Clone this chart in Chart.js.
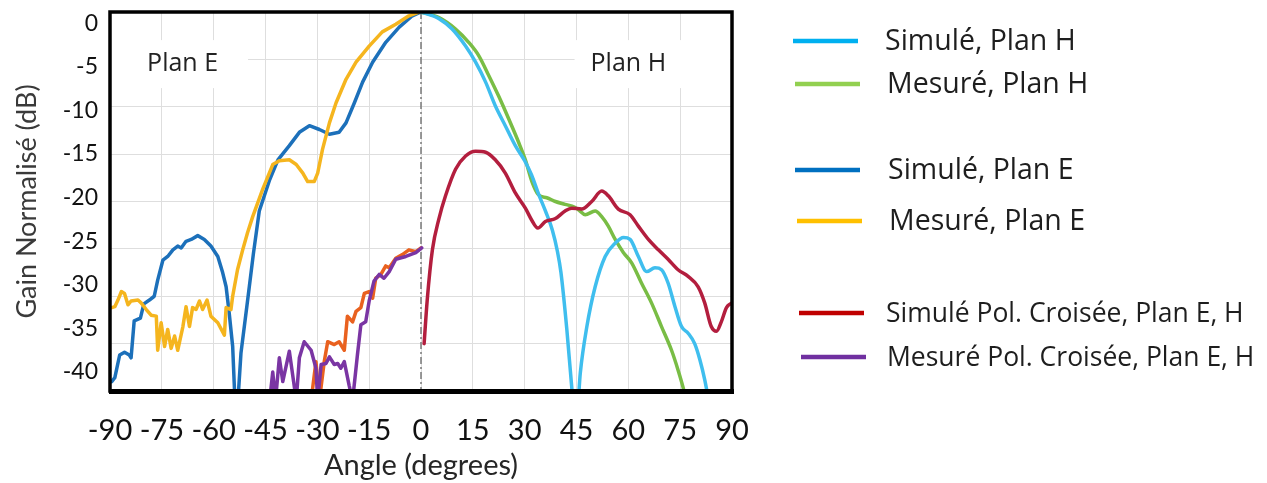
<!DOCTYPE html>
<html>
<head>
<meta charset="utf-8">
<script src="https://cdn.jsdelivr.net/npm/chart.js@4.4.1/dist/chart.umd.min.js"></script>
<style>
  html, body { margin: 0; padding: 0; background: #ffffff; }
  #wrap { position: relative; width: 1267px; height: 483px; }
</style>
</head>
<body>
<div id="wrap"><canvas id="chart" width="1267" height="483"></canvas></div>
<script>
// Tick values
const angleTicks = [-90, -75, -60, -45, -30, -15, 0, 15, 30, 45, 60, 75, 90];
const gainTicks = [0, -5, -10, -15, -20, -25, -30, -35, -40];

// Simulated, H plane
const simHAngle = [0, 5.2, 9.0, 12.9, 15.8, 18.7, 21.5, 24.4, 27.3, 30.0, 32.0, 34.0, 36.0, 38.0, 39.5, 40.5, 42.2, 43.6, 44.8, 46.1, 48.0, 50.4, 53.3, 56.2, 58.6, 60.5, 62.9, 65.3, 67.7, 69.6, 71.5, 73.5, 75.4, 77.3, 79.2, 80.7, 82.1, 83.5];
const simHGain  = [0, -0.7, -1.8, -3.6, -5.3, -7.4, -9.9, -12.0, -14.1, -15.7, -17.2, -19.2, -21.0, -23.0, -25.3, -27.5, -33.5, -39.5, -44.0, -38.1, -33.2, -29.0, -25.8, -24.4, -23.8, -24.0, -25.8, -27.4, -27.0, -27.2, -28.6, -31.1, -33.2, -33.9, -35.0, -36.7, -38.8, -41.5];

// Measured, H plane
const mesHAngle = [0, 5.2, 10.0, 13.8, 16.7, 19.6, 22.5, 25.4, 28.3, 30.2, 32.1, 34.0, 36.4, 38.9, 41.7, 44.5, 46.0, 47.5, 50.4, 52.3, 54.2, 56.2, 58.6, 61.0, 63.8, 66.7, 69.6, 72.5, 74.4, 75.9, 77.0];
const mesHGain  = [0, -0.6, -1.8, -3.2, -4.6, -6.7, -8.9, -11.3, -13.8, -15.6, -17.9, -19.3, -19.6, -20.0, -20.3, -20.6, -21.0, -21.4, -21.0, -21.6, -22.6, -24.0, -25.4, -26.5, -28.6, -30.7, -33.2, -35.7, -37.8, -39.7, -41.5];

// Simulated, E plane
const simEAngle = [-89.5, -88.6, -87.2, -85.8, -84.4, -83.9, -83.0, -81.2, -80.2, -78.6, -77.2, -76.2, -74.7, -73.3, -71.8, -70.4, -69.4, -68.0, -66.5, -64.6, -62.7, -60.8, -58.8, -57.4, -56.4, -55.5, -54.5, -53.5, -52.1, -50.2, -48.5, -46.8, -43.8, -41.4, -38.1, -35.2, -32.3, -29.4, -26.5, -23.7, -21.7, -19.3, -16.9, -14.0, -10.2, -6.3, -2.5, 0];
const simEGain  = [-39.0, -38.6, -36.2, -35.9, -36.2, -36.5, -32.6, -32.3, -30.8, -30.4, -30.0, -28.3, -26.2, -25.8, -25.1, -24.7, -24.9, -24.2, -24.0, -23.6, -24.0, -24.7, -25.8, -27.5, -29.0, -31.8, -35.3, -44.0, -36.0, -30.5, -25.5, -21.0, -17.7, -15.6, -14.1, -12.7, -12.0, -12.4, -12.9, -12.7, -11.7, -9.6, -7.4, -5.3, -3.2, -1.6, -0.4, 0];

// Measured, E plane
const mesEAngle = [-89.5, -88.6, -87.7, -86.7, -85.8, -84.8, -83.9, -81.9, -81.0, -79.5, -78.1, -76.6, -76.2, -75.2, -74.2, -73.3, -72.3, -71.3, -70.4, -68.9, -68.0, -67.0, -66.1, -65.1, -64.1, -63.2, -61.9, -60.8, -58.8, -56.9, -56.4, -55.0, -54.5, -53.1, -51.6, -50.2, -48.7, -45.8, -42.9, -41.0, -38.1, -36.1, -34.2, -32.8, -30.9, -29.9, -28.5, -26.5, -24.6, -21.7, -18.8, -15.0, -11.2, -7.3, -3.5, -0.6];
const mesEGain  = [-31.2, -31.1, -30.4, -29.5, -29.7, -30.9, -30.5, -30.4, -30.7, -31.4, -32.0, -32.1, -35.7, -32.8, -35.3, -33.5, -35.5, -34.2, -35.7, -33.2, -31.1, -33.2, -31.2, -31.4, -30.5, -31.4, -30.4, -32.1, -32.8, -34.1, -31.2, -31.4, -30.0, -27.2, -25.1, -23.3, -21.6, -18.7, -16.1, -15.7, -15.6, -16.1, -17.0, -17.9, -17.9, -17.0, -14.5, -11.7, -9.6, -7.1, -5.3, -3.6, -2.1, -1.3, -0.4, 0];

// Simulated cross-polarisation
const simXAngle = [0.9, 1.8, 3.3, 5.2, 7.1, 10.0, 12.9, 15.8, 18.7, 21.5, 24.4, 27.3, 30.2, 32.1, 33.8, 36.0, 38.9, 41.7, 43.6, 46.5, 49.4, 52.3, 54.2, 57.1, 60.5, 62.9, 65.8, 68.7, 71.5, 74.4, 77.3, 80.2, 82.1, 84.0, 85.5, 86.9, 88.4, 90.0];
const simXGain  = [-35.0, -30.4, -25.1, -21.8, -19.4, -16.6, -15.2, -14.7, -14.8, -15.6, -17.0, -19.1, -20.7, -22.0, -22.8, -22.1, -21.8, -21.0, -20.7, -20.8, -20.0, -18.9, -19.4, -20.8, -21.4, -22.6, -24.0, -25.1, -26.1, -27.2, -27.9, -29.0, -30.7, -33.2, -33.7, -32.7, -31.2, -30.7];

// Measured cross-polarisation (second cut)
const mesX2Angle = [-31.8, -30.4, -29.4, -28.0, -27.0, -25.1, -23.7, -22.2, -21.3, -19.8, -18.8, -17.4, -16.4, -15.0, -14.0, -13.1, -11.6, -10.2, -9.2, -7.3, -5.4, -3.5, -1.5, 0];
const mesX2Gain  = [-41.0, -36.9, -41.0, -36.9, -34.8, -35.1, -34.8, -35.7, -32.1, -32.7, -31.6, -31.2, -29.7, -29.5, -30.2, -28.1, -27.7, -26.8, -27.0, -26.0, -25.6, -25.1, -25.3, -24.9];

// Measured cross-polarisation
const mesXAngle = [-43.8, -42.9, -42.1, -41.0, -40.0, -38.1, -36.1, -35.2, -33.8, -31.8, -30.4, -29.9, -28.9, -27.5, -26.5, -25.1, -24.1, -23.2, -22.2, -20.8, -19.8, -18.4, -17.4, -16.0, -15.0, -13.6, -12.1, -10.7, -9.2, -7.3, -4.4, -1.5, 0.2];
const mesXGain  = [-41.0, -38.0, -41.0, -36.5, -39.0, -35.8, -41.0, -36.5, -34.8, -35.7, -37.6, -41.0, -37.2, -37.1, -36.4, -37.2, -37.1, -37.6, -36.9, -39.4, -41.0, -36.2, -33.0, -32.7, -30.5, -28.4, -27.7, -28.1, -27.4, -26.1, -25.8, -25.4, -24.9];

// Broadside reference line
const boresightAngle = [0, 0];
const boresightGain = [0, -40];

const legendLabels = ['Simulé, Plan H', 'Mesuré, Plan H', 'Simulé, Plan E', 'Mesuré, Plan E',
                      'Simulé Pol. Croisée, Plan E, H', 'Mesuré Pol. Croisée, Plan E, H'];
const legendColors = ['#00B0F0', '#92D050', '#0070C0', '#FFC000', '#C00000', '#7030A0'];
const planLabels = ['Plan E', 'Plan H'];

const pts = (xs, ys) => xs.map((x, i) => ({ x: x, y: ys[i] }));

function curve(label, xs, ys, color, order, smooth) {
  return {
    label: label,
    data: pts(xs, ys),
    borderColor: color,
    backgroundColor: color,
    borderWidth: 3.5,
    pointRadius: 0,
    fill: false,
    order: order,
    cubicInterpolationMode: smooth ? 'monotone' : 'default',
    tension: 0,
    borderJoinStyle: 'round',
    borderCapStyle: 'round'
  };
}

const datasets = [
  curve(legendLabels[0], simHAngle, simHGain, '#3FBEEE', 3, true),
  curve(legendLabels[1], mesHAngle, mesHGain, '#79BD45', 4, true),
  curve(legendLabels[2], simEAngle, simEGain, '#1C70BA', 6, false),
  curve(legendLabels[3], mesEAngle, mesEGain, '#F5B51E', 5, false),
  curve(legendLabels[4], simXAngle, simXGain, '#B31E3E', 2, true),
  curve(legendLabels[5], mesXAngle, mesXGain, '#7A35A3', 0, false),
  curve('', mesX2Angle, mesX2Gain, '#E9611F', 1, false),
  {
    label: '',
    data: pts(boresightAngle, boresightGain),
    borderColor: '#7a7a7a',
    borderWidth: 1.5,
    borderDash: [7, 3, 2, 3],
    pointRadius: 0,
    order: 7
  }
];

const LATO = 'Lato, "Open Sans", sans-serif';

// Frame, in-plot labels and side legend
const decorations = {
  id: 'decorations',
  beforeDatasetsDraw(chart, args, opts) {
    const { ctx, scales } = chart;
    ctx.save();
    ctx.font = opts.planFont;
    ctx.textAlign = 'center';
    ctx.textBaseline = 'middle';
    opts.planAnchors.forEach((a, i) => {
      const px = scales.x.getPixelForValue(a.x);
      const py = scales.y.getPixelForValue(a.y);
      const w = ctx.measureText(planLabels[i]).width;
      ctx.fillStyle = '#ffffff';
      ctx.fillRect(px - w / 2 - a.padL, py - 24, w + a.padL + a.padR, 48);
      ctx.fillStyle = '#222222';
      ctx.fillText(planLabels[i], px, py);
    });
    ctx.restore();
  },
  afterDatasetsDraw(chart) {
    const { ctx, chartArea: a } = chart;
    ctx.save();
    ctx.strokeStyle = '#000000';
    ctx.lineWidth = 3.5;
    ctx.strokeRect(a.left, a.top, a.right - a.left, a.bottom - a.top);
    ctx.lineWidth = 5;
    ctx.beginPath();
    ctx.moveTo(a.left - 1, a.bottom + 0.5);
    ctx.lineTo(a.right + 2, a.bottom + 0.5);
    ctx.stroke();
    ctx.restore();
  },
  afterDraw(chart, args, opts) {
    const { ctx } = chart;
    ctx.save();
    ctx.textBaseline = 'middle';
    ctx.textAlign = 'left';
    opts.rows.forEach((r, i) => {
      ctx.strokeStyle = legendColors[i];
      ctx.lineWidth = 4.5;
      ctx.beginPath();
      ctx.moveTo(r.lineX, r.y);
      ctx.lineTo(r.lineX + 65, r.y);
      ctx.stroke();
      ctx.fillStyle = '#1e1e1e';
      ctx.font = r.font;
      ctx.fillText(legendLabels[i], r.textX, r.y + 1);
    });
    ctx.restore();
  }
};

// Keep the plot box fixed: no extra room for half-labels at the ends of an axis
const noEdgePadding = s => { s.paddingTop = 0; s.paddingBottom = 0; s.paddingLeft = 0; s.paddingRight = 0; };

new Chart(document.getElementById('chart'), {
  type: 'line',
  data: { datasets: datasets },
  plugins: [decorations],
  options: {
    responsive: false,
    animation: false,
    devicePixelRatio: 1,
    layout: { padding: { top: 12, right: 535, left: 0, bottom: 0 } },
    plugins: {
      legend: { display: false },
      tooltip: { enabled: false },
      decorations: {
        planFont: '25px "Open Sans", sans-serif',
        planAnchors: [
          { x: -69, y: -5.5, padL: 36, padR: 30 },
          { x: 60, y: -5.5, padL: 16, padR: 64 }
        ],
        rows: [
          { y: 41,  lineX: 793, textX: 885, font: '28.5px "Open Sans", sans-serif' },
          { y: 84,  lineX: 795, textX: 887, font: '28.5px "Open Sans", sans-serif' },
          { y: 170, lineX: 795, textX: 888, font: '28.5px "Open Sans", sans-serif' },
          { y: 221, lineX: 797, textX: 889, font: '28.5px "Open Sans", sans-serif' },
          { y: 313, lineX: 799, textX: 886, font: '26.5px "Open Sans", sans-serif' },
          { y: 357, lineX: 801, textX: 887, font: '26.5px "Open Sans", sans-serif' }
        ]
      }
    },
    scales: {
      x: {
        type: 'linear',
        min: -90,
        max: 90,
        afterBuildTicks: s => { s.ticks = angleTicks.map(v => ({ value: v })); },
        afterFit: s => { s.height = 92; noEdgePadding(s); },
        grid: { color: '#dedede', lineWidth: 1, drawTicks: false },
        border: { display: false },
        ticks: {
          padding: 22,
          autoSkip: false,
          maxRotation: 0,
          color: '#111111',
          font: { family: LATO, size: 29 },
          callback: v => String(v)
        },
        title: {
          display: true,
          text: 'Angle (degrees)',
          color: '#262626',
          font: { family: LATO, size: 29 },
          padding: { top: 0, bottom: 0 }
        }
      },
      y: {
        type: 'linear',
        position: 'left',
        weight: 0,
        min: -40,
        max: 0,
        afterBuildTicks: s => { s.ticks = gainTicks.map(v => ({ value: v })); },
        afterFit: s => { s.width = 0; noEdgePadding(s); },
        grid: { color: '#dedede', lineWidth: 1, drawTicks: false },
        border: { display: false },
        ticks: { display: false }
      },
      gainLabels: {
        type: 'linear',
        position: 'left',
        weight: 1,
        min: -42.2,
        max: 1.3,
        afterBuildTicks: s => { s.ticks = gainTicks.map(v => ({ value: v })); },
        afterFit: s => { s.width = 110; noEdgePadding(s); },
        grid: { display: false, drawTicks: false },
        border: { display: false },
        ticks: {
          padding: 12,
          color: '#111111',
          font: { family: LATO, size: 23 },
          callback: v => String(v)
        },
        title: {
          display: true,
          text: 'Gain Normalisé (dB)',
          color: '#3a3a3a',
          font: { family: LATO, size: 27 },
          padding: { top: 11, bottom: 0 }
        }
      }
    }
  }
});
</script>
</body>
</html>
